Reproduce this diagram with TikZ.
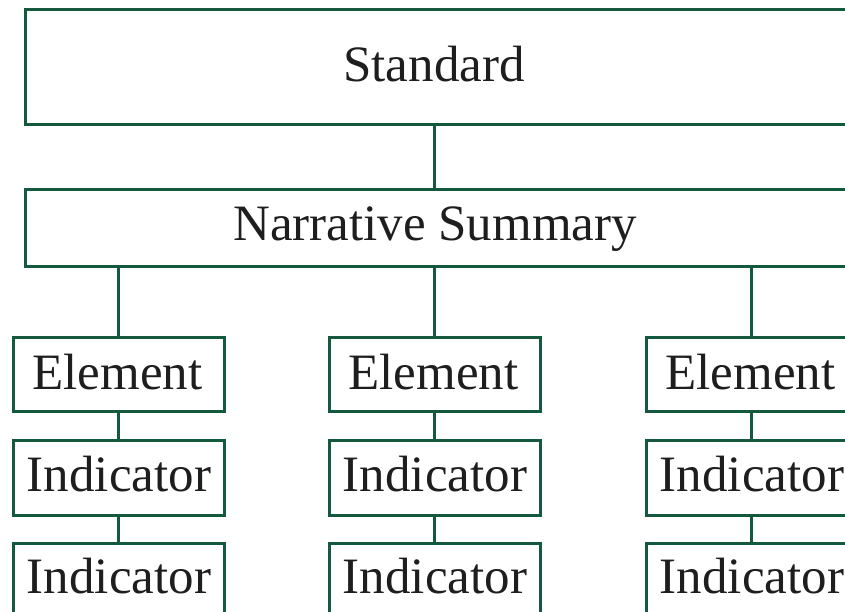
\documentclass[tikz,border=0pt]{standalone}
\usepackage{fontspec}
\setmainfont{Liberation Serif}
\definecolor{boxgreen}{RGB}{20,88,62}
\definecolor{txt}{RGB}{30,30,30}
\begin{document}
\begin{tikzpicture}[x=1pt,y=-1pt,
  box/.style={draw=boxgreen, line width=3pt, fill=white, inner sep=0pt, rectangle},
  lbl/.style={font=\fontsize{51}{56}\selectfont, text=txt, inner sep=0pt, anchor=center},
  conn/.style={draw=boxgreen, line width=3pt}]
\useasboundingbox (0,0) rectangle (845,612);
\clip (0,0) rectangle (845,612);
\fill[white] (0,0) rectangle (845,612);
% top boxes
\node[box, minimum width=840, minimum height=115] (std) at (445,67.5) {};
\node[lbl] (stdt) at (434,64) {Standard};
\node[box, minimum width=840, minimum height=76] (ns) at (445,228) {};
\node[lbl] (nst) at (435,229) {Narrative Summary};
% columns
\foreach \i/\cx in {1/118.5, 2/434.5, 3/751.5}{
  \node[box, minimum width=211, minimum height=74] (el\i) at (\cx,374) {};
  \node[lbl] (elt\i) at (\cx-1,372) {Element};
  \node[box, minimum width=211, minimum height=75] (ia\i) at (\cx+0.5,477.5) {};
  \node[lbl] (iat\i) at (\cx+0.5,474) {Indicator};
  \node[box, minimum width=211, minimum height=80] (ib\i) at (\cx+0.5,583) {};
  \node[lbl] (ibt\i) at (\cx+0.5,576) {Indicator};
}
% connectors
\draw[conn] (std.south -| el2.north) -- (ns.north -| el2.north);
\foreach \i in {1,2,3}{
  \draw[conn] (ns.south -| el\i.north) -- (el\i.north);
  \draw[conn] (el\i.south) -- (ia\i.north -| el\i.south);
  \draw[conn] (ia\i.south -| el\i.south) -- (ib\i.north -| el\i.south);
}
\end{tikzpicture}
\end{document}
